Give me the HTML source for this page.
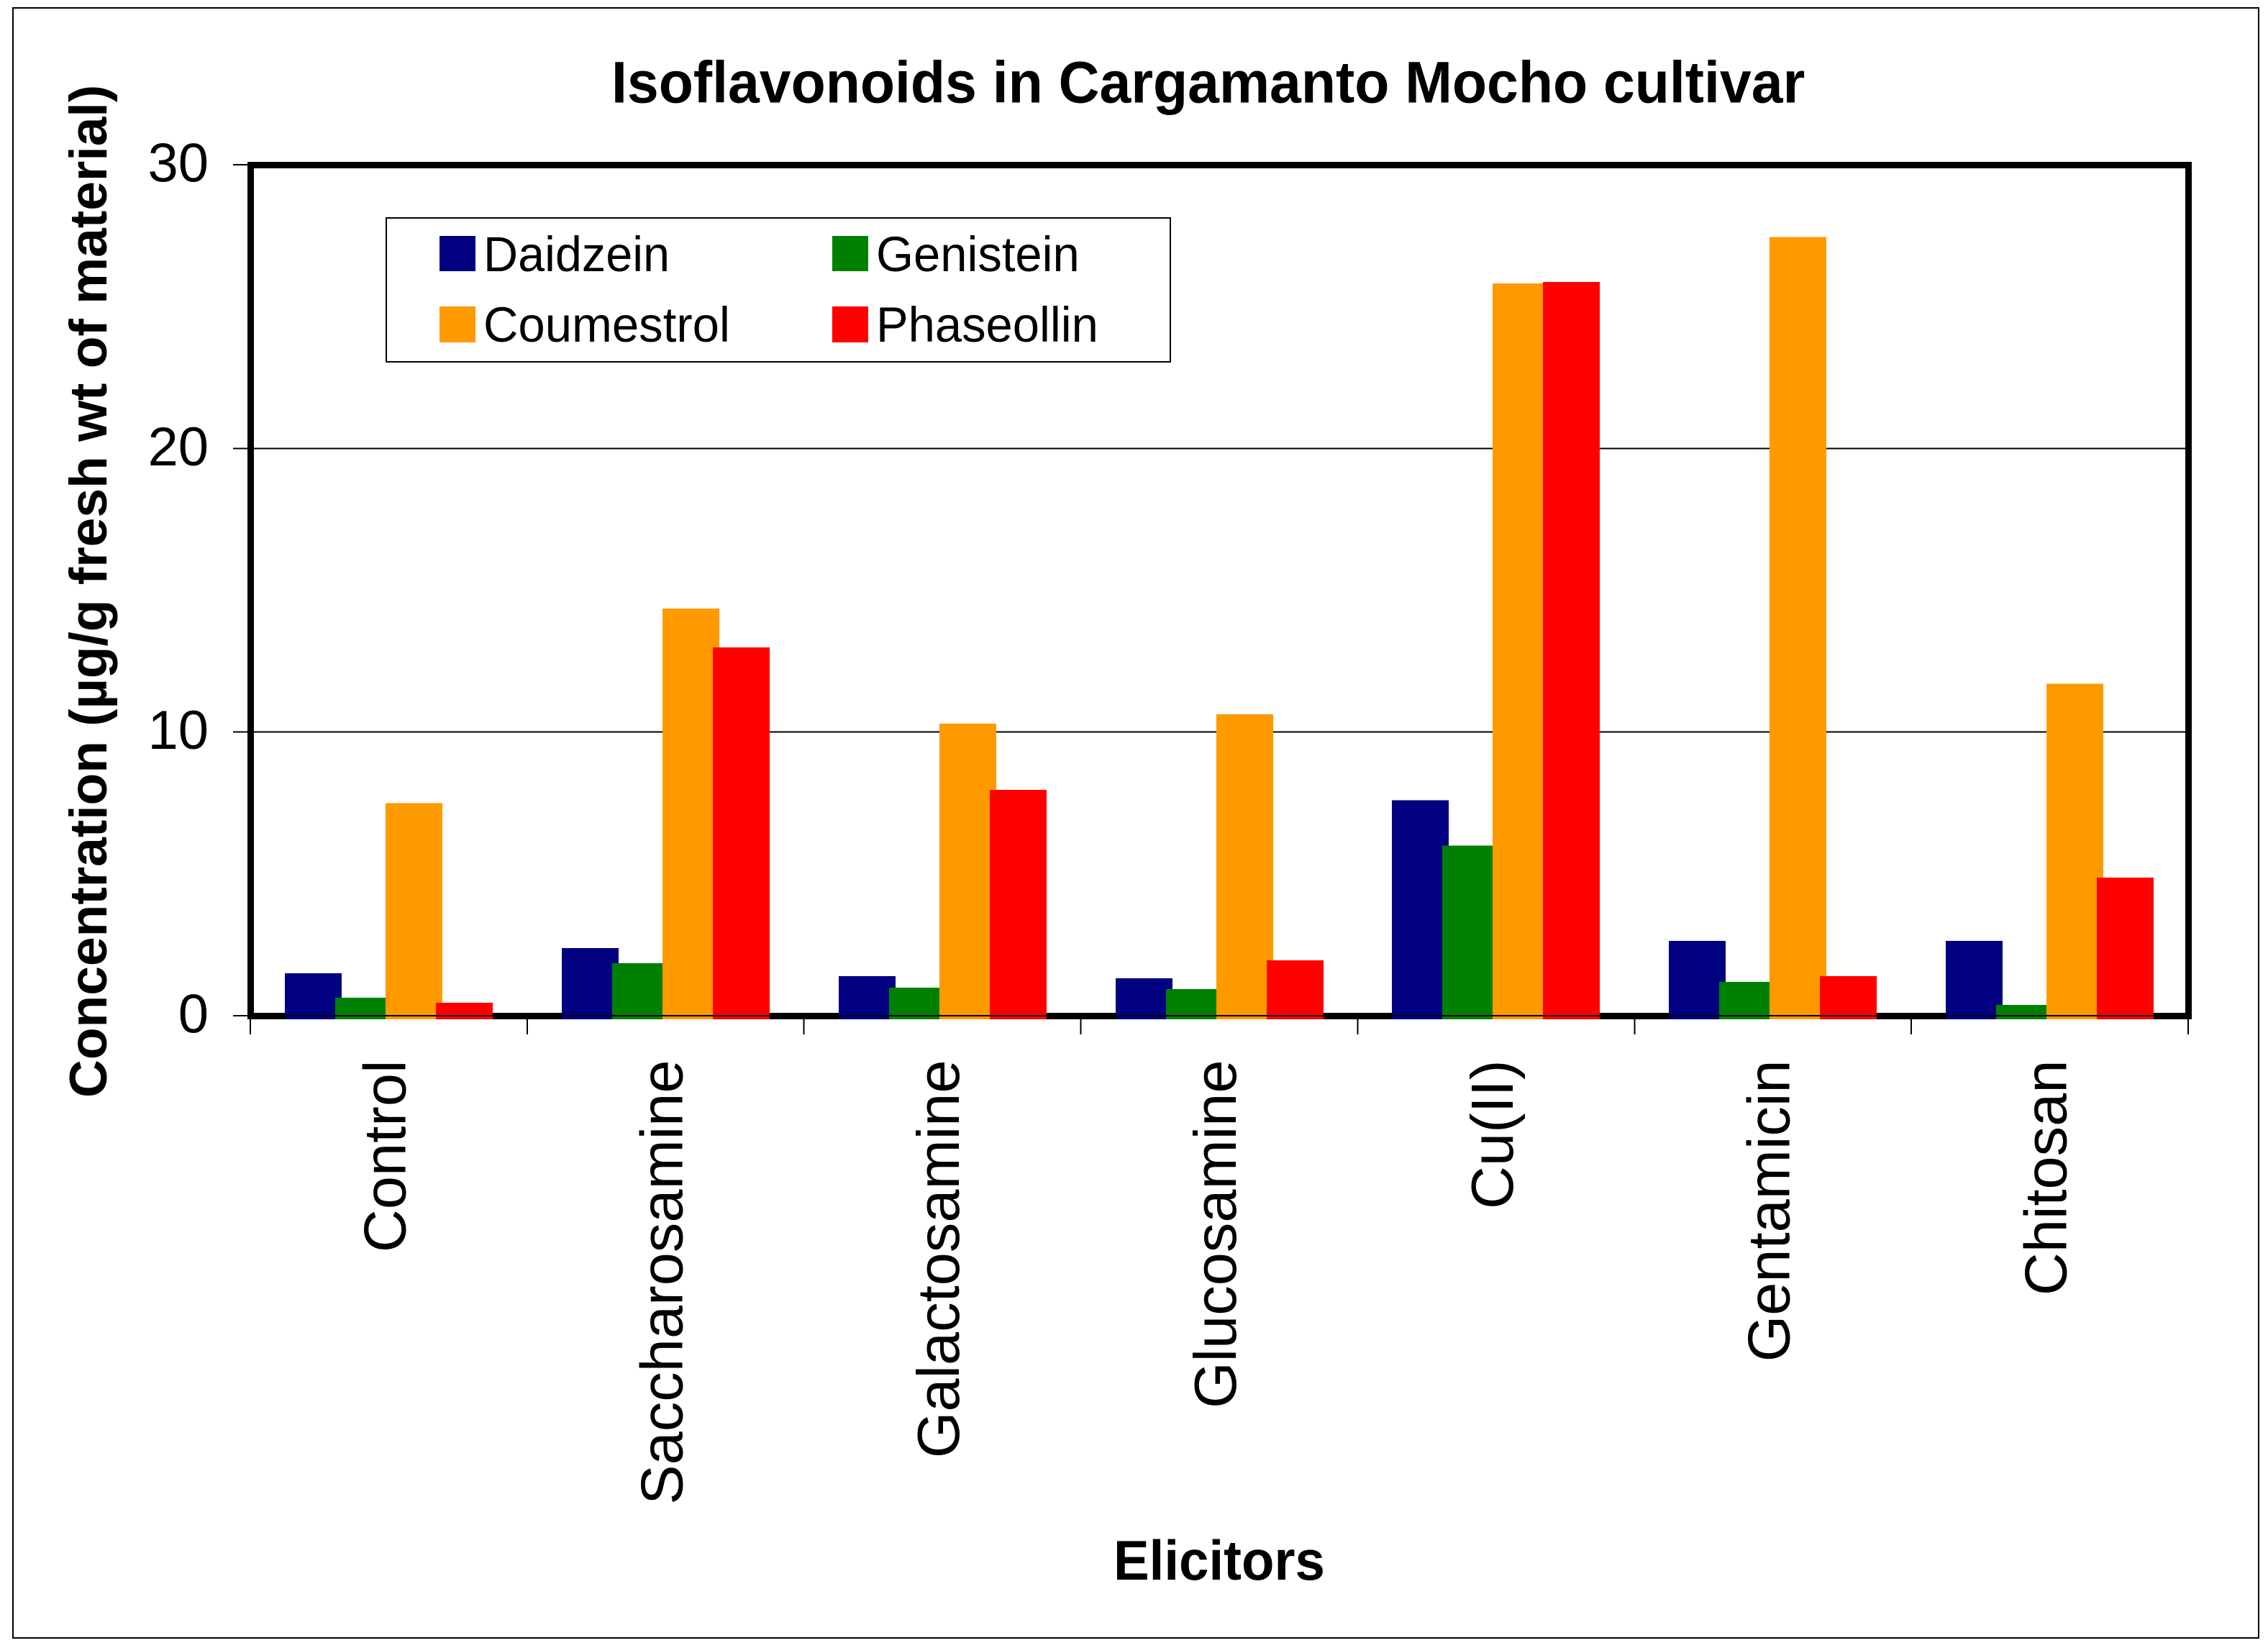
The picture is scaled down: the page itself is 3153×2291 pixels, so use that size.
<!DOCTYPE html>
<html lang="en">
<head>
<meta charset="utf-8">
<title>Isoflavonoids in Cargamanto Mocho cultivar</title>
<style>
  html, body { margin: 0; padding: 0; background: #fff; width: 3153px; height: 2291px; overflow: hidden; }
  svg { display: block; }
  text { font-family: "Liberation Sans", sans-serif; fill: #000; }
  .crisp { shape-rendering: crispEdges; }
</style>
</head>
<body>
<svg id="chart" xmlns="http://www.w3.org/2000/svg" width="3153" height="2291" viewBox="0 0 3153 2291">
  <rect x="0" y="0" width="3153" height="2291" fill="#ffffff"/>
  <rect class="crisp" x="18" y="11" width="3122" height="2266" fill="none" stroke="#000" stroke-width="2"/>
  <text transform="translate(850,142.5) scale(0.961,1)" font-size="82" font-weight="700">Isoflavonoids in Cargamanto Mocho cultivar</text>
  <text transform="translate(148,1526) rotate(-90) scale(0.9957,1)" font-size="73.5" font-weight="700">Concentration (µg/g fresh wt of material)</text>
  <text transform="translate(1548,2196) scale(0.955,1)" font-size="78" font-weight="700">Elicitors</text>
  <g id="grid" class="crisp"></g>
  <rect class="crisp" x="348.5" y="229.5" width="2694" height="1183" fill="none" stroke="#000" stroke-width="9"/>
  <g id="ticks" class="crisp"></g>
  <g id="bars" class="crisp"></g>
  <g id="zero" class="crisp"></g>
  <g id="ylabels"></g>
  <g id="xlabels"></g>
  <g>
    <rect class="crisp" x="537" y="303" width="1090" height="200" fill="#fff" stroke="#000" stroke-width="2"/>
    <g>
      <rect class="crisp" x="611" y="328" width="50" height="49" fill="#000080"/>
      <text transform="translate(672,377) scale(0.965,1)" font-size="69">Daidzein</text>
    </g>
    <g>
      <rect class="crisp" x="1157" y="328" width="50" height="49" fill="#008000"/>
      <text transform="translate(1218,377) scale(0.97,1)" font-size="69">Genistein</text>
    </g>
    <g>
      <rect class="crisp" x="611" y="426" width="50" height="50" fill="#FF9900"/>
      <text transform="translate(672,475) scale(0.972,1)" font-size="69">Coumestrol</text>
    </g>
    <g>
      <rect class="crisp" x="1157" y="426" width="50" height="50" fill="#FF0000"/>
      <text transform="translate(1218,475) scale(0.97,1)" font-size="69">Phaseollin</text>
    </g>
  </g>
</svg>
<script>
const categories = ["Control", "Saccharosamine", "Galactosamine", "Glucosamine", "Cu(II)", "Gentamicin", "Chitosan"];
const daidzein   = [1.50, 2.38, 1.39, 1.32, 7.60, 2.64, 2.64];
const genistein  = [0.63, 1.85, 0.99, 0.94, 6.00, 1.19, 0.38];
const coumestrol = [7.50, 14.35, 10.30, 10.62, 25.82, 27.45, 11.70];
const phaseollin = [0.46, 12.98, 7.96, 1.95, 25.87, 1.39, 4.87];
const yTicks = [0, 10, 20, 30];

const NS = "http://www.w3.org/2000/svg";
const plotLeft = 348, plotRight = 3042, plotZeroY = 1412, plotTopY = 229, yMax = 30, barFloorY = 1417;
const bandWidth = (plotRight - plotLeft) / categories.length;
const firstBarOffset = 48, barStep = 70, barWidth = 79;

function yScale(v) { return plotZeroY - (v / yMax) * (plotZeroY - plotTopY); }
function xBand(i) { return plotLeft + i * bandWidth; }
function make(tag, parentId) {
  const el = document.createElementNS(NS, tag);
  document.getElementById(parentId).appendChild(el);
  return el;
}
function line(el, x1, y1, x2, y2) {
  el.setAttribute("x1", x1);
  el.setAttribute("y1", y1);
  el.setAttribute("x2", x2);
  el.setAttribute("y2", y2);
  el.setAttribute("stroke", "#000");
  el.setAttribute("stroke-width", 2);
}

yTicks.forEach(function (t) {
  const y = yScale(t);
  if (t > 0 && t < yMax) {
    const g = make("line", "grid");
    
    
    line(g, plotLeft, y, plotRight, y);
  }
  const tk = make("line", "ticks");
  
  
  line(tk, 324, y, 346, y);
  const lb = make("text", "ylabels");
  
  
  lb.setAttribute("x", 290);
  lb.setAttribute("y", y + 23.5);
  lb.setAttribute("text-anchor", "end");
  lb.setAttribute("font-size", 76);
  lb.textContent = String(t);
});

for (let i = 0; i <= categories.length; i++) {
  const tk = make("line", "ticks");
  
  
  line(tk, xBand(i), 1415, xBand(i), 1438);
}

const seriesList = [
  { name: "daidzein", values: daidzein, color: "#000080" },
  { name: "genistein", values: genistein, color: "#008000" },
  { name: "coumestrol", values: coumestrol, color: "#FF9900" },
  { name: "phaseollin", values: phaseollin, color: "#FF0000" }
];
categories.forEach(function (cat, i) {
  seriesList.forEach(function (s, k) {
    const r = make("rect", "bars");
    const top = yScale(s.values[i]);
    
    
    r.setAttribute("x", Math.round(xBand(i) + firstBarOffset + k * barStep));
    r.setAttribute("y", top);
    r.setAttribute("width", barWidth);
    r.setAttribute("height", barFloorY - top);
    r.setAttribute("fill", s.color);
  });
  const lb = make("text", "xlabels");
  const cx = xBand(i) + bandWidth / 2 + 23;
  
  
  lb.setAttribute("transform", "translate(" + cx + ",1473.5) rotate(-90)");
  lb.setAttribute("text-anchor", "end");
  lb.setAttribute("font-size", 83);
  lb.textContent = cat;
});

const zero = make("line", "zero");


line(zero, plotLeft, plotZeroY, plotRight, plotZeroY);
</script>
</body>
</html>
